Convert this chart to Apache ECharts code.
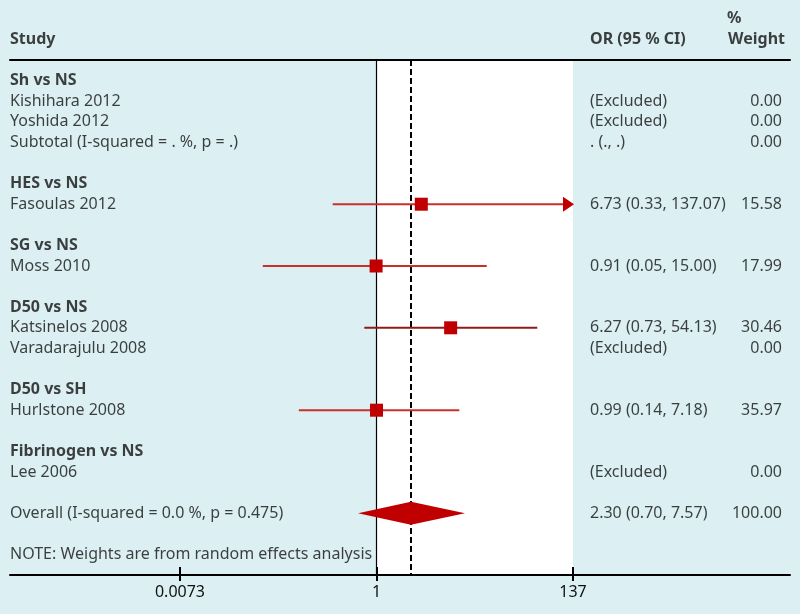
<!DOCTYPE html>
<html><head><meta charset="utf-8">
<script src="https://cdn.jsdelivr.net/npm/echarts@6/dist/echarts.min.js"></script>
<style>html,body{margin:0;padding:0;background:#dcf0f3}#c{width:800px;height:614px}</style>
</head><body><div id="c"></div>
<script>
// ---- data ----
const studyLabels = ['Sh vs NS','Kishihara 2012','Yoshida 2012','Subtotal (I-squared = . %, p = .)',
  'HES vs NS','Fasoulas 2012','SG vs NS','Moss 2010','D50 vs NS','Katsinelos 2008','Varadarajulu 2008',
  'D50 vs SH','Hurlstone 2008','Fibrinogen vs NS','Lee 2006','Overall (I-squared = 0.0 %, p = 0.475)',
  'NOTE: Weights are from random effects analysis'];
const studyRows = [0,1,2,3,5,6,8,9,11,12,13,15,16,18,19,21,23];
const groupHeaders = ['Sh vs NS','HES vs NS','SG vs NS','D50 vs NS','D50 vs SH','Fibrinogen vs NS'];

const orRows = [1,2,3,6,9,12,13,16,19,21];
const orTexts = ['(Excluded)','(Excluded)','. (., .)','6.73 (0.33, 137.07)','0.91 (0.05, 15.00)',
  '6.27 (0.73, 54.13)','(Excluded)','0.99 (0.14, 7.18)','(Excluded)','2.30 (0.70, 7.57)'];
const weightTexts = ['0.00','0.00','0.00','15.58','17.99','30.46','0.00','35.97','0.00','100.00'];

// plotted estimates
const plotNames = ['Fasoulas 2012','Moss 2010','Katsinelos 2008','Hurlstone 2008'];
const plotRows = [6,9,12,16];
const plotEst = [3.07,0.99,6.4,1.0];
const plotLo = [0.334,0.058,0.737,0.143];
const plotHi = [137.07,15.8,56,7.95];

const overallRow = 21;
const overallEst = 2.37, overallLo = 0.63, overallHi = 9.17;

const tickValues = [0.0073, 1, 137];
const tickLabels = ['0.0073','1','137'];

// ---- layout / style ----
const FONT = 'Noto Sans';
const TXT = '#111111';
const RED = '#c00000';
const colStudy = 10, colOR = 590, colW = 782, colPct = 727;
const darkLine = {'Katsinelos 2008': true};
const plotMax = tickValues[tickValues.length-1];
const LOGMIN = Math.pow(10,-3.985), LOGMAX = Math.pow(10,4.496);

const chart = echarts.init(document.getElementById('c'), null, {renderer:'canvas'});

function textItem(x, row, text, bold){
  return {name:text, value:[x,row], label:{fontWeight: bold ? 'bold' : 'normal'}};
}
const leftTexts = [];
studyLabels.forEach((s,i)=>leftTexts.push(textItem(colStudy, studyRows[i], s, groupHeaders.includes(s))));
leftTexts.push(textItem(colStudy, -2, 'Study', true));
orTexts.forEach((s,i)=>leftTexts.push(textItem(colOR, orRows[i], s, false)));
leftTexts.push(textItem(colOR, -2, 'OR (95 % CI)', true));
leftTexts.push(textItem(colPct, -3, '%', true));
const rightTexts = [];
weightTexts.forEach((s,i)=>rightTexts.push(textItem(colW, orRows[i], s, false)));
rightTexts.push(textItem(colW+3, -2, 'Weight', true));

const studyData = plotNames.map((n,i)=>({name:n, value:[plotRows[i], plotEst[i], plotLo[i], plotHi[i]]}));

const labelBase = {show:true, fontFamily:FONT, fontSize:16, color:TXT, verticalAlign:'middle'};

chart.setOption({
  backgroundColor:'#dcf0f3',
  animation:false,
  grid:{left:10, right:10, top:60, bottom:39, containLabel:false},
  xAxis:[
    {type:'log', min:LOGMIN, max:LOGMAX, position:'bottom',
     axisLine:{show:true, onZero:false, lineStyle:{color:'#000', width:2}},
     axisTick:{show:true, customValues:tickValues, length:6, lineStyle:{color:'#000', width:2}},
     axisLabel:{show:true, customValues:tickValues, margin:9, fontFamily:FONT, fontSize:16, color:TXT,
       formatter:(v)=>{const k=tickValues.findIndex(t=>Math.abs(Math.log10(t)-Math.log10(v))<1e-6); return k>=0?tickLabels[k]:'';}},
     splitLine:{show:false}, minorTick:{show:false}},
    {type:'value', min:10, max:790, position:'top',
     axisLine:{show:true, onZero:false, lineStyle:{color:'#000', width:2}}, axisTick:{show:false}, axisLabel:{show:false}, splitLine:{show:false}},
    {type:'log', min:LOGMIN, max:LOGMAX, position:'bottom',
     axisLine:{show:false, onZero:false},
     axisTick:{show:true, inside:true, customValues:tickValues, length:8, lineStyle:{color:'#000', width:2}},
     axisLabel:{show:false}, splitLine:{show:false}, minorTick:{show:false}}
  ],
  yAxis:[{type:'value', inverse:true, min:-1, max:24, show:false}],
  series:[
    {type:'custom', xAxisIndex:0, yAxisIndex:0, clip:false, z:5,
     encode:{x:[1,2,3], y:0},
     data:studyData,
     renderItem:(params, api)=>{
       const row=api.value(0), est=api.value(1), lo=api.value(2), hi=api.value(3);
       const name = studyData[params.dataIndex].name;
       const pLo=api.coord([lo,row]), pE=api.coord([est,row]);
       const arrow = hi > plotMax;
       const pHi=api.coord([arrow ? plotMax : hi, row]);
       const lineColor = darkLine[name] ? '#8e1b1b' : '#c8302c';
       const ch=[];
       let xEnd=pHi[0];
       if(arrow){
         xEnd=pHi[0]-10;
         ch.push({type:'polygon', shape:{points:[[pHi[0]-10,pHi[1]-7.5],[pHi[0]+1,pHi[1]],[pHi[0]-10,pHi[1]+7.5]]}, style:{fill:RED}});
       }
       ch.push({type:'line', shape:{x1:pLo[0],y1:pLo[1],x2:xEnd,y2:pLo[1]}, style:{stroke:lineColor, lineWidth:2}});
       ch.push({type:'rect', shape:{x:pE[0]-6.5,y:pE[1]-6.5,width:13,height:13}, style:{fill:RED}});
       return {type:'group', children:ch};
     },
     markArea:{silent:true, z:0, itemStyle:{color:'#ffffff'}, data:[[{xAxis:1},{xAxis:plotMax}]]},
     markLine:{silent:true, symbol:'none', label:{show:false}, z:1,
       data:[{xAxis:1, lineStyle:{color:'#000', width:1.2, type:'solid'}},
             {xAxis:overallEst, lineStyle:{color:'#000', width:2, type:[6,3]}}]}
    },
    {type:'custom', xAxisIndex:0, yAxisIndex:0, clip:false, z:6,
     encode:{x:[1,2,3], y:0},
     data:[[overallRow, overallEst, overallLo, overallHi]],
     renderItem:(params, api)=>{
       const row=api.value(0);
       const pE=api.coord([api.value(1),row]), pL=api.coord([api.value(2),row]), pH=api.coord([api.value(3),row]);
       return {type:'polygon', shape:{points:[[pL[0],pL[1]],[pE[0],pE[1]-11.5],[pH[0],pH[1]],[pE[0],pE[1]+11.5]]}, style:{fill:RED}};
     }},
    {type:'scatter', xAxisIndex:1, yAxisIndex:0, symbolSize:0, clip:false, silent:true, z:7,
     data:leftTexts,
     label:Object.assign({}, labelBase, {position:'right', distance:0, formatter:(p)=>p.name})},
    {type:'scatter', xAxisIndex:1, yAxisIndex:0, symbolSize:0, clip:false, silent:true, z:7,
     data:rightTexts,
     label:Object.assign({}, labelBase, {position:'left', distance:0, formatter:(p)=>p.name})}
  ]
});
</script>
</body></html>
